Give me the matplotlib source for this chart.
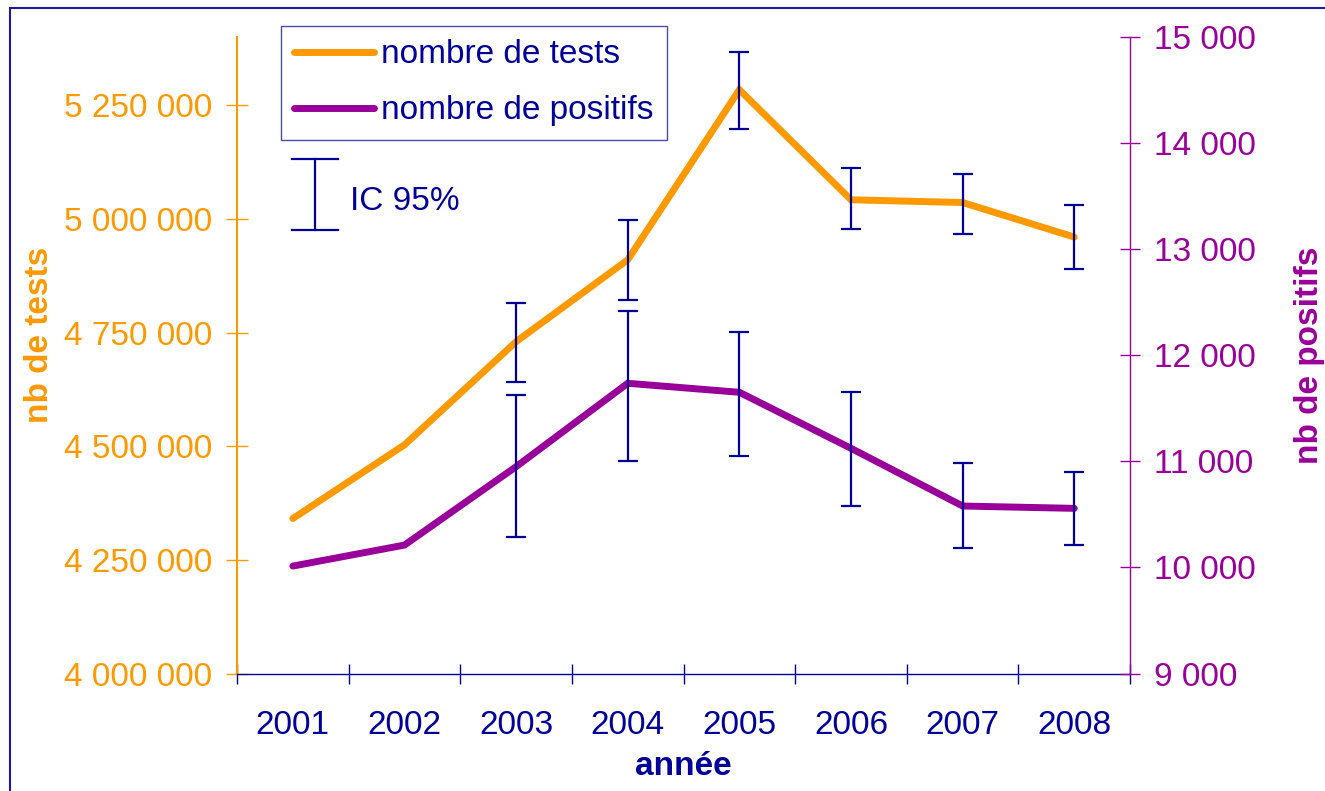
import matplotlib
matplotlib.use('Agg')
import matplotlib.pyplot as plt
import matplotlib.ticker as mticker
from matplotlib.patches import Rectangle
import numpy as np

plt.rcParams['font.family'] = ['Liberation Sans', 'DejaVu Sans']

# Data
years = ['2001', '2002', '2003', '2004', '2005', '2006', '2007', '2008']
tests = [4341000, 4503000, 4730000, 4910000, 5284000, 5042000, 5036000, 4960000]
tests_low = [np.nan, np.nan, 4641000, 4821000, 5198000, 4977000, 4967000, 4890000]
tests_high = [np.nan, np.nan, 4816000, 4998000, 5366000, 5112000, 5099000, 5031000]
positifs = [10013, 10211, 10950, 11736, 11651, 11123, 10579, 10557]
pos_low = [np.nan, np.nan, 10284, 11003, 11053, 10579, 10186, 10209]
pos_high = [np.nan, np.nan, 11623, 12417, 12222, 11651, 10982, 10902]

orange = '#FF9900'
purple = '#990099'
navy = '#000099'

fig = plt.figure(figsize=(13.25, 7.91), dpi=100)
ax1 = fig.add_axes([0.1789, 0.1485, 0.674, 0.8047])
ax2 = ax1.twinx()

x = np.arange(len(years))

# Lines
l1, = ax1.plot(x, tests, color=orange, lw=5, solid_capstyle='round',
               solid_joinstyle='miter', label='nombre de tests', zorder=2)
l2, = ax2.plot(x, positifs, color=purple, lw=5, solid_capstyle='round',
               solid_joinstyle='miter', label='nombre de positifs', zorder=2)

# Error bars (IC 95%)
t = np.array(tests, dtype=float)
tl = np.array(tests_low)
th = np.array(tests_high)
m = ~np.isnan(tl)
ax1.errorbar(x[m], t[m], yerr=[t[m] - tl[m], th[m] - t[m]], fmt='none',
             ecolor=navy, elinewidth=1.6, capsize=7, capthick=1.6, zorder=3)
p = np.array(positifs, dtype=float)
pl = np.array(pos_low)
ph = np.array(pos_high)
m = ~np.isnan(pl)
ax2.errorbar(x[m], p[m], yerr=[p[m] - pl[m], ph[m] - p[m]], fmt='none',
             ecolor=navy, elinewidth=1.6, capsize=7, capthick=1.6, zorder=3)

# Axes limits and ticks
ax1.set_xlim(-0.5, len(years) - 0.5)
ax1.set_ylim(4000000, 5400000)
ax2.set_ylim(9000, 15000)
ax1.set_yticks(np.arange(4000000, 5250001, 250000))
ax2.set_yticks(np.arange(9000, 15001, 1000))

fmt = mticker.FuncFormatter(lambda v, pos: '{:,.0f}'.format(v).replace(',', ' '))
ax1.yaxis.set_major_formatter(fmt)
ax2.yaxis.set_major_formatter(fmt)

ax1.set_xticks(x)
ax1.set_xticklabels(years)
ax1.set_xticks(np.arange(-0.5, len(years)), minor=True)
ax1.tick_params(axis='x', which='major', length=0, pad=26, labelsize=24, labelcolor=navy)
ax1.tick_params(axis='x', which='minor', direction='inout', length=15, width=1, color=navy)
ax1.tick_params(axis='y', direction='inout', length=16, width=1, color=orange,
                labelcolor=orange, labelsize=24, pad=10)
ax2.tick_params(axis='y', direction='inout', length=15, width=1, color=purple,
                labelcolor=purple, labelsize=24, pad=10)

# Spines
for s in ['top', 'right']:
    ax1.spines[s].set_visible(False)
for s in ['top', 'left', 'bottom']:
    ax2.spines[s].set_visible(False)
ax1.spines['left'].set_color(orange)
ax1.spines['left'].set_linewidth(1.5)
ax1.spines['bottom'].set_color(navy)
ax1.spines['bottom'].set_linewidth(1)
ax2.spines['right'].set_color(purple)
ax2.spines['right'].set_linewidth(1)

# Axis labels
ax1.set_ylabel('nb de tests', color=orange, fontsize=24, fontweight='bold',
               va='center', ha='center')
ax1.yaxis.set_label_coords(-0.221, 0.532)
ax2.set_ylabel('nb de positifs', color=purple, fontsize=24, fontweight='bold',
               rotation=90, va='center', ha='center')
ax2.yaxis.set_label_coords(1.201, 0.500)
ax1.set_xlabel('année', color=navy, fontsize=24, fontweight='bold', va='center')
ax1.xaxis.set_label_coords(0.5, -0.146)

# Legend
leg = ax1.legend(handles=[l1, l2], loc='upper left',
                 bbox_to_anchor=(281 / 1325, 1 - 26 / 791), bbox_transform=fig.transFigure,
                 borderaxespad=0, fontsize=24, handlelength=2.4, handletextpad=0.2,
                 borderpad=0.4, labelspacing=0.75, fancybox=False, framealpha=1)
leg.get_frame().set_edgecolor('#4B4BB0')
leg.get_frame().set_linewidth(1)
for txt in leg.get_texts():
    txt.set_color(navy)

# IC 95% key
ix, iy0, iy1, cw = 0.0873, 0.8083, 0.6968, 0.0258
ax2.plot([ix, ix], [iy0, iy1], color=navy, lw=1.6, transform=ax2.transAxes)
ax2.plot([ix - cw, ix + cw], [iy0, iy0], color=navy, lw=1.6, transform=ax2.transAxes)
ax2.plot([ix - cw, ix + cw], [iy1, iy1], color=navy, lw=1.6, transform=ax2.transAxes)
ax2.text(0.1265, 0.741, 'IC 95%', color=navy, fontsize=24, va='center', ha='left',
         transform=ax2.transAxes)

# Frame around the figure
fig.patches.append(Rectangle((10 / 1325, -0.1), 1.2, 1.1 - 8 / 791, transform=fig.transFigure,
                             fill=False, edgecolor='#1a1aa0', linewidth=1.5, clip_on=False))

fig.savefig('out.png', dpi=100)
